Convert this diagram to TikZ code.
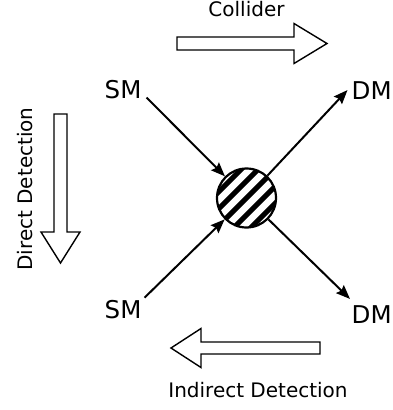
\documentclass[tikz,border=0pt]{standalone}
\usepackage{fontspec}
\setmainfont{DejaVu Sans}
\usetikzlibrary{arrows.meta}
\tikzset{
  particle/.style={inner sep=0pt, anchor=base west, font=\fontsize{24.5}{27}\selectfont},
  label/.style={inner sep=0pt, anchor=base, font=\fontsize{20}{24}\selectfont},
  blockarrow/.style={draw=black, fill=white, line width=1.4pt, line join=miter},
  conn/.style={line width=2pt, -{Stealth[length=14pt,width=11pt,inset=2pt]}},
  blobstyle/.style={circle, draw, line width=2.2pt, minimum size=59pt, inner sep=0pt, fill=white,
    path picture={
      \foreach \d in {-48,-36,...,48}
        \draw[line width=5.2pt]
          ([shift={(\d*0.7071-40,\d*0.7071+40)}]path picture bounding box.center) --
          ([shift={(\d*0.7071+40,\d*0.7071-40)}]path picture bounding box.center);
    }}
}
\begin{document}
\begin{tikzpicture}[x=1pt,y=-1pt]
\useasboundingbox (0,0) rectangle (392,410);

% labels
\node[label] (collider) at (246.5,16.5) {Collider};
\node[label] (indirect) at (258,397) {Indirect Detection};
\node[label, rotate=90] (direct) at (32,189) {Direct Detection};

% block arrows
\draw[blockarrow] (177,37) -- (294,37) -- (294,23.5) -- (327,43.5) -- (294,63.5) -- (294,50) -- (177,50) -- cycle;
\draw[blockarrow] (54,114) -- (67,114) -- (67,232) -- (80,232) -- (60.5,263) -- (41,232) -- (54,232) -- cycle;
\draw[blockarrow] (320,342) -- (201,342) -- (201,328.5) -- (171,348) -- (201,367.5) -- (201,354) -- (320,354) -- cycle;

% particles
\node[particle] (sm1) at (104.5,98) {SM};
\node[particle] (sm2) at (104.5,318) {SM};
\node[particle] (dm1) at (351.5,99) {DM};
\node[particle] (dm2) at (351.5,323) {DM};

% blob
\node[blobstyle] (blob) at (246.5,198) {};

% connectors
\draw[conn] ([xshift=5pt,yshift=1pt]sm1.south east) -- (blob);
\draw[conn] ([xshift=3pt,yshift=2pt]sm2.north east) -- (blob);
\draw[conn] (blob) -- ([xshift=-4pt]dm1.west);
\draw[conn] (blob) -- ([xshift=-1.5pt,yshift=6pt]dm2.north west);
\end{tikzpicture}
\end{document}
